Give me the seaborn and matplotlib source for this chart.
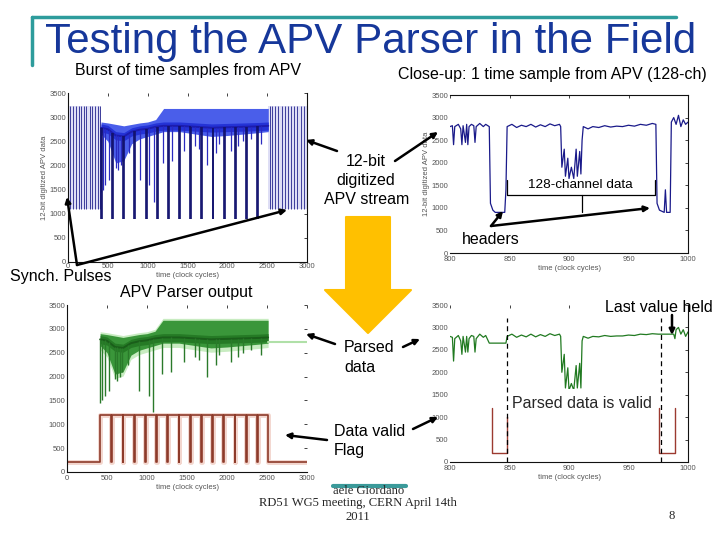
import numpy as np
import matplotlib
matplotlib.use("Agg")
import matplotlib.pyplot as plt
import seaborn as sns
from matplotlib.transforms import Affine2D
from matplotlib.patches import FancyArrowPatch, Polygon
from matplotlib.lines import Line2D

# ------------------------------------------------------------------ data
# APV frame headers (clock cycle where each header starts) in the burst
header_start = [414, 554, 694, 834, 974, 1114, 1254, 1394, 1534, 1674, 1814, 1954, 2094, 2234, 2374]
header_width = 12
header_level = 890
burst_end = 2514

# synch pulses before / after the burst
sync_spans = [(0, 414), (2514, 3000)]
sync_x = [20, 58, 95, 135, 165, 198, 232, 270, 305, 340, 372, 400,
          2530, 2565, 2600, 2640, 2680, 2720, 2760, 2800, 2840, 2880, 2920, 2960, 2995]
sync_hi = 3230
sync_lo = 1100

burst_x = [414, 500, 600, 700, 800, 900, 1000, 1100, 1200, 1400, 1600, 1800, 2000, 2200, 2400, 2514]
burst_hi = [2900, 2880, 2850, 2820, 2850, 2880, 2900, 2950, 3180, 3180, 3180, 3180, 3180, 3180, 3180, 3180]
burst_lo = [2650, 2500, 2050, 2100, 2450, 2550, 2600, 2650, 2700, 2700, 2650, 2600, 2620, 2650, 2680, 2700]
burst_mid = [2780, 2750, 2620, 2600, 2700, 2740, 2760, 2800, 2820, 2820, 2800, 2780, 2790, 2800, 2810, 2820]

# individual channel dips inside the burst
chan_x = [416, 440, 470, 520, 600, 630, 660, 690, 760, 900, 1020, 1080, 1190, 1300, 1460,
          1600, 1750, 1900, 2050, 2200, 2300, 1650, 1860, 2140, 2420]
chan_y = [1450, 1500, 1600, 1700, 1950, 1900, 2000, 2100, 2250, 1700, 1600, 1250, 2050, 2100, 2300,
          2400, 2000, 2450, 2300, 2500, 2550, 2350, 2250, 2400, 2450]

# parser output: value held after the burst
held_after = 2730

# close-up: one APV frame (clock cycles 800-1000), raw stream
close_x = [800, 802, 803, 804, 807, 809, 810, 811, 813, 814,
           815, 816, 818, 820, 821, 822, 825, 828, 830, 833,
           834, 836, 838, 846, 847, 848, 852, 856, 860, 864,
           868, 872, 876, 880, 884, 888, 892, 893, 894, 896,
           897, 899, 900, 902, 904, 906, 907, 909, 910, 911,
           912, 916, 920, 925, 930, 935, 940, 945, 950, 955,
           960, 965, 970, 973, 974, 976, 980, 981, 982, 985,
           986, 988, 990, 992, 994, 996, 998, 1000]
close_raw = [2800, 2820, 2400, 2800, 2850, 2750, 2400, 2820, 2450, 2850,
             2400, 2800, 2850, 2820, 2450, 2800, 2870, 2800, 2850, 2800,
             1100, 950, 900, 900, 1400, 2800, 2850, 2780, 2830, 2800,
             2850, 2790, 2840, 2800, 2860, 2820, 2850, 2800, 1900, 2300,
             1700, 2100, 1650, 1900, 1650, 2300, 1700, 2250, 1750, 2500,
             2800, 2750, 2800, 2780, 2820, 2790, 2810, 2800, 2830, 2810,
             2850, 2830, 2870, 2850, 1100, 950, 900, 1400, 900, 900,
             2900, 3000, 2850, 3050, 2800, 2950, 2850, 2900]

# close-up: parser output (headers replaced by the last value held)
parsed_x = [800, 802, 803, 804, 807, 809, 810, 811, 813, 814,
            815, 816, 818, 820, 821, 822, 825, 828, 830, 833,
            847, 848, 852, 856, 860, 864, 868, 872, 876, 880,
            884, 888, 892, 893, 894, 896, 897, 899, 900, 902,
            904, 906, 907, 909, 910, 911, 912, 916, 920, 925,
            930, 935, 940, 945, 950, 955, 960, 965, 970, 975,
            988, 989, 990, 992, 994, 996, 998, 1000]
parsed_val = [2800, 2780, 2250, 2750, 2820, 2700, 2400, 2800, 2450, 2800,
              2450, 2750, 2820, 2800, 2450, 2750, 2850, 2780, 2820, 2650,
              2650, 2800, 2850, 2780, 2830, 2790, 2850, 2790, 2840, 2800,
              2860, 2820, 2850, 2800, 2000, 2400, 1650, 2100, 1600, 1750,
              1600, 2150, 1650, 2200, 1650, 2700, 2800, 2760, 2800, 2790,
              2820, 2800, 2810, 2810, 2830, 2820, 2850, 2840, 2860, 2850,
              2850, 2750, 2950, 3000, 2850, 2950, 2800, 2900]

# close-up: data-valid flag, low (not valid) during the two headers
flag_low_spans = [(835, 848), (976, 989)]
flag_hi = 1200
flag_lo = 200
valid_edges = [848, 977]

y_ticks = [0, 500, 1000, 1500, 2000, 2500, 3000, 3500]
burst_ticks = [0, 500, 1000, 1500, 2000, 2500, 3000]
close_ticks = [800, 850, 900, 950, 1000]

# ------------------------------------------------------------------ figure
sns.set_theme(style="white")
plt.rcParams["font.family"] = ["Liberation Sans", "DejaVu Sans"]

fig = plt.figure(figsize=(7.2, 5.4), dpi=100)
fig.patch.set_facecolor("white")
T = Affine2D().scale(1 / 720, -1 / 540).translate(0, 1) + fig.transFigure


def px_axes(x0, y0, x1, y1):
    return fig.add_axes([x0 / 720, 1 - y1 / 540, (x1 - x0) / 720, (y1 - y0) / 540])


def style(ax, xlim, xticks, ylab=None, shown=("left", "bottom", "right", "top")):
    ax.set_xlim(*xlim)
    ax.set_ylim(0, 3500)
    ax.set_xticks(xticks)
    ax.set_yticks(y_ticks)
    ax.tick_params(direction="in", length=2.5, width=0.6, labelsize=5.5,
                   labelcolor="#555555", color="#222222", top=True, right=True, pad=1.2)
    ax.tick_params(axis="x", pad=2.5)
    for name, sp in ax.spines.items():
        sp.set_visible(name in shown)
        sp.set_color("#111111")
        sp.set_linewidth(0.8)
    ax.set_xlabel("time (clock cycles)", fontsize=5.5, color="#555555", labelpad=1)
    ax.set_ylabel(ylab if ylab else "", fontsize=5.5, color="#555555", labelpad=1)
    ax.set_facecolor("white")
    ax.grid(False)


ax1 = px_axes(68, 93, 307, 262)
ax2 = px_axes(450, 95, 688, 253)
ax3 = px_axes(67, 305, 307, 472)
ax4 = px_axes(450, 305, 688, 462)

header_x = header_start + [h + header_width for h in header_start]
mid_at_chan = np.interp(chan_x, burst_x, burst_mid)
mid_at_head = np.interp(header_x, burst_x, burst_mid)
mid = np.array(burst_mid)

# ---- top-left: burst of time samples
for a, b in sync_spans:
    ax1.fill_between([a, b], sync_lo, sync_hi, color="#dedef5", lw=0)
ax1.vlines(sync_x, sync_lo, sync_hi, color="#23238c", lw=0.6)
ax1.fill_between(burst_x, burst_lo, burst_hi, color="#4a5eea", lw=0)
ax1.fill_between(burst_x, mid - 90, mid + 80, color="#2433d6", lw=0)
sns.lineplot(x=burst_x, y=burst_mid, ax=ax1, color="#1c1cae", lw=1.4)
ax1.vlines(chan_x, chan_y, mid_at_chan, color="#2a2ac0", lw=0.9)
ax1.vlines(header_x, header_level, mid_at_head, color="#12126e", lw=1.2)
style(ax1, (0, 3000), burst_ticks, "12-bit digitized APV data", ("left", "bottom", "right"))
ax1.tick_params(axis="x", pad=1.0)

# ---- top-right: close-up raw
sns.lineplot(x=close_x, y=close_raw, ax=ax2, color="#1a1a8a", lw=0.9, sort=False, estimator=None)
style(ax2, (800, 1000), close_ticks, "12-bit digitized APV data", ("bottom", "right", "top"))

# ---- bottom-left: parser output of the burst
fx = [0, header_start[0], header_start[0]]
fy = [flag_lo, flag_lo, flag_hi]
for h in header_start[1:]:
    fx += [h, h, h + header_width, h + header_width]
    fy += [flag_hi, flag_lo, flag_lo, flag_hi]
fx += [burst_end, burst_end, 3000]
fy += [flag_hi, flag_lo, flag_lo]
sns.lineplot(x=fx, y=fy, ax=ax3, color="#f3d6ce", lw=3.5, sort=False, estimator=None)
sns.lineplot(x=fx, y=fy, ax=ax3, color="#8e3b2a", lw=1.2, sort=False, estimator=None)
ax3.fill_between(burst_x, np.array(burst_lo) - 90, np.array(burst_hi) + 40, color="#c8ecc1", lw=0)
ax3.fill_between(burst_x, burst_lo, burst_hi, color="#3a963a", lw=0)
ax3.fill_between(burst_x, mid - 90, mid + 80, color="#257a25", lw=0)
sns.lineplot(x=burst_x, y=burst_mid, ax=ax3, color="#1a5e1a", lw=1.4)
sns.lineplot(x=[burst_end, 3000], y=[held_after, held_after], ax=ax3, color="#b0e0a8", lw=1.5)
ax3.vlines(chan_x, chan_y, mid_at_chan, color="#2a7a2a", lw=1.0)
style(ax3, (0, 3000), burst_ticks, None, ("left", "bottom"))

# ---- bottom-right: close-up parser output
for a, b in flag_low_spans:
    sns.lineplot(x=[a, a, b, b], y=[flag_hi, flag_lo, flag_lo, flag_hi], ax=ax4,
                 color="#9c3a30", lw=1.0, sort=False, estimator=None, zorder=2)
sns.lineplot(x=parsed_x, y=parsed_val, ax=ax4, color="#217a21", lw=0.9, sort=False, estimator=None, zorder=2)
ax4.vlines(valid_edges, 0, 3200, color="black", lw=0.9, linestyles=(0, (4, 3)), zorder=5)
style(ax4, (800, 1000), close_ticks, None, ("bottom", "right"))
ax4.text(512, 403, "Parsed data is valid", transform=T, fontsize=11.5, ha="left", va="center",
         zorder=4, bbox=dict(boxstyle="square,pad=0.4", fc="white", ec="none"))

# ------------------------------------------------------------------ slide decorations
fig.add_artist(Line2D([32, 676], [17, 17], transform=T, color="#2e9c9c", lw=2.5))
fig.add_artist(Line2D([32, 32], [17, 65], transform=T, color="#2e9c9c", lw=2.5))
fig.text(371, 53, "Testing the APV Parser in the Field", transform=T, fontsize=30.3,
         color="#16379a", ha="center", va="baseline")


def label(x, y, s, ha="left", size=11.5, **kw):
    fig.text(x, y, s, transform=T, fontsize=size, ha=ha, va="center", color="black", **kw)


label(75, 71, "Burst of time samples from APV", size=11.5)
label(398, 74, "Close-up: 1 time sample from APV (128-ch)", size=11.5)
label(366, 161, "12-bit", ha="center")
label(366, 181, "digitized", ha="center")
label(367, 200, "APV stream", ha="center")
label(580, 185, "128-channel data", ha="center", size=9.7)
label(462, 240, "headers")
label(10, 277, "Synch. Pulses")
label(120, 292, "APV Parser output")
label(605, 307, "Last value held")
label(344, 347, "Parsed")
label(344, 367, "data")
label(334, 431, "Data valid")
label(334, 450, "Flag")

# footer
fig.add_artist(Line2D([333, 406], [486, 486], transform=T, color="#3a9a9a", lw=3))
fig.text(369, 491, "aele Giordano", transform=T, fontsize=9.1, family="Liberation Serif", ha="center", va="center")
fig.text(358, 503, "RD51 WG5 meeting, CERN April 14th", transform=T, fontsize=9.1,
         family="Liberation Serif", ha="center", va="center")
fig.text(358, 517, "2011", transform=T, fontsize=9.1, family="Liberation Serif", ha="center", va="center")
fig.text(672, 516, "8", transform=T, fontsize=9.1, family="Liberation Serif", ha="center", va="center")

# brace under the 128 channels
fig.add_artist(Line2D([507, 507, 655, 655], [180, 195, 195, 180], transform=T, color="black", lw=0.9))
fig.add_artist(Line2D([582, 582], [195, 212], transform=T, color="black", lw=0.9))

# big yellow arrow
arrow_pts = [(346, 217), (390, 217), (390, 290), (411, 290), (368, 333), (325, 290), (346, 290)]
fig.add_artist(Polygon(arrow_pts, closed=True, transform=T, fc="#FFC000", ec="#FFC000",
                       lw=1.5, joinstyle="round"))

# black annotation arrows
arrows = [((337, 151), (306, 140)), ((395, 161), (438, 132)),
          ((77, 265), (67, 197)), ((77, 265), (287, 210)),
          ((491, 226), (503, 211)), ((491, 226), (650, 208)),
          ((335, 344), (306, 334)), ((403, 347), (420, 339)),
          ((327, 440), (285, 435)), ((413, 429), (438, 417)),
          ((672, 315), (672, 335))]
for a, b in arrows:
    fig.add_artist(FancyArrowPatch(a, b, transform=T, arrowstyle="-|>", mutation_scale=8,
                                   lw=1.8, color="black", shrinkA=0, shrinkB=0))

fig.savefig("out.png", dpi=100, facecolor="white")
